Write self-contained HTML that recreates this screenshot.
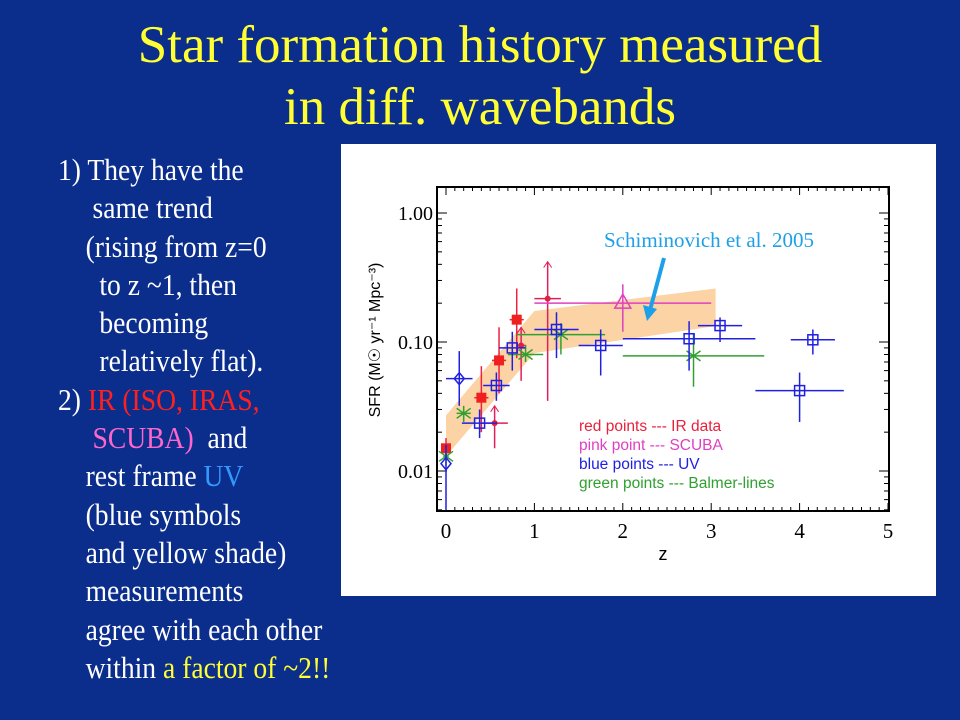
<!DOCTYPE html>
<html><head><meta charset="utf-8">
<style>
body{margin:0;width:960px;height:720px;background:#0b2d8c;overflow:hidden;position:relative;font-family:"Liberation Serif",serif}
.t{position:absolute;left:0;width:960px;text-align:center;color:#ffff33;font-size:53px;line-height:62px}
.b{position:absolute;color:#fff;font-size:31px;line-height:38.3px;white-space:pre;transform:scaleX(0.89);transform-origin:0 0}
</style></head><body>
<div class="t" style="top:14px">Star formation history measured<br>in diff. wavebands</div>
<div class="b" style="left:58px;top:151px">1) They have the
     same trend
    (rising from z=0
      to z ~1, then
      becoming
      relatively flat).
2) <span style="color:#ff2020">IR (ISO, IRAS,</span>
     <span style="color:#ff66cc">SCUBA)</span>  and
    rest frame <span style="color:#3399ff">UV</span>
    (blue symbols
    and yellow shade)
    measurements
    agree with each other
    within <span style="color:#ffff33">a factor of ~2!!</span></div>
<svg style="position:absolute;left:341px;top:144px" width="595" height="452" viewBox="341 144 595 452">
<rect x="341" y="144" width="595" height="452" fill="#fff"/>
<g id="g"></g>
</svg>
<script>
const red=[[0,0.015,0.05,0.0125,0.018],[0.4,0.037,0.08,0.02,0.065],[0.6,0.072,0.08,0.04,0.13],[0.8,0.149,0.08,0.075,0.26]];
const redArrow=[[0.55,0.0235,0.15,0.015,0.032],[0.85,0.094,0.05,0.05,0.13],[1.15,0.217,0.15,0.035,0.42]];
const pink=[[2.0,0.2,1.0,0.12,0.28]];
const blueSq=[[0.38,0.0235,0.2,0.018,0.03],[0.57,0.046,0.15,0.035,0.058],[0.75,0.09,0.15,0.06,0.12],[1.25,0.125,0.25,0.075,0.17],[1.75,0.094,0.25,0.055,0.125],[2.75,0.106,0.75,0.06,0.145],[3.1,0.134,0.25,0.1,0.155],[4.0,0.042,0.5,0.024,0.058],[4.15,0.104,0.25,0.08,0.125]];
const blueDia=[[0.15,0.052,0.15,0.032,0.085],[0,0.0114,0,0.005,0.016]];
const green=[[0.2,0.028,0.08,0.024,0.032],[0.9,0.08,0.2,0.07,0.095],[1.3,0.114,0.5,0.08,0.14],[2.8,0.078,0.8,0.045,0.115],[0,0.013,0.03,0.011,0.015]];
const bandZ=[0,1,3.05];
const bandLo=[0.013,0.082,0.133];
const bandHi=[0.027,0.174,0.26];
const xTicks=[0,1,2,3,4,5];
const yTicks=[0.01,0.1,1];
const yLabels=["0.01","0.10","1.00"];
const L=437,R=889,T=187,B=511;
const X=z=>446+z*88.4;
const Y=v=>213-Math.log10(v)*129;
const g=document.getElementById('g');
const NS='http://www.w3.org/2000/svg';
function el(tag,a,p){const e=document.createElementNS(NS,tag);for(const k in a)e.setAttribute(k,a[k]);(p||g).appendChild(e);return e;}
let pts=bandZ.map((z,i)=>X(z)+','+Y(bandHi[i])).concat(bandZ.slice().reverse().map((z,i)=>X(z)+','+Y(bandLo[bandZ.length-1-i])));
const band=el('polygon',{points:pts.join(' '),fill:'#fbd3a4'});


const fr=el('rect',{x:L,y:T,width:R-L,height:B-T,fill:'none',stroke:'#000','stroke-width':2});


xTicks.forEach(t=>{
 el('line',{x1:X(t),x2:X(t),y1:B,y2:B-8,stroke:'#000'});el('line',{x1:X(t),x2:X(t),y1:T,y2:T+8,stroke:'#000'});
 for(let k=1;k<10&&t<5;k++){const xx=X(t+k/10);if(xx<R){el('line',{x1:xx,x2:xx,y1:B,y2:B-4,stroke:'#000'});el('line',{x1:xx,x2:xx,y1:T,y2:T+4,stroke:'#000'});}}
 const tx=el('text',{x:X(t),y:B+27,'text-anchor':'middle','font-size':21,'font-family':'Liberation Serif'});tx.textContent=t;
 
 
});
[0.001,0.01,0.1,1].forEach(d=>{for(let k=1;k<10;k++){const yy=Y(d*k);if(yy>T&&yy<B){const w=k==1?10:5;el('line',{x1:L,x2:L+w,y1:yy,y2:yy,stroke:'#000'});el('line',{x1:R,x2:R-w,y1:yy,y2:yy,stroke:'#000'});}}});
yTicks.forEach((t,i)=>{const tx=el('text',{x:L-4,y:Y(t)+7,'text-anchor':'end','font-size':20,'font-family':'Liberation Serif'});tx.textContent=yLabels[i];
 
 });
const xt=el('text',{x:663,y:560,'text-anchor':'middle','font-size':18,'font-family':'Liberation Sans'});xt.textContent='z';


const yt=el('text',{x:0,y:0,'text-anchor':'middle','font-size':16,'font-family':'Liberation Sans',transform:'translate(380,340) rotate(-90)'});yt.textContent='SFR (M\u2609 yr\u207B\u00B9 Mpc\u207B\u00B3)';


function err(d,c){el('line',{x1:X(d[0]-d[2]),x2:X(d[0]+d[2]),y1:Y(d[1]),y2:Y(d[1]),stroke:c,'stroke-width':1.5});el('line',{x1:X(d[0]),x2:X(d[0]),y1:Y(d[3]),y2:Y(d[4]),stroke:c,'stroke-width':1.5});}
red.forEach(d=>{err(d,'#f02040');const m=el('rect',{x:X(d[0])-5,y:Y(d[1])-5,width:10,height:10,fill:'#f02020'});});
redArrow.forEach(d=>{err(d,'#e0205a');const m=el('circle',{cx:X(d[0]),cy:Y(d[1]),r:3,fill:'#e02040'});const x=X(d[0]),y=Y(d[4]);el('polyline',{points:`${x-4},${y+6} ${x},${y} ${x+4},${y+6}`,fill:'none',stroke:'#e0205a'});});
pink.forEach(d=>{err(d,'#e040c0');const x=X(d[0]),y=Y(d[1]);const m=el('polygon',{points:`${x},${y-9} ${x-8},${y+5} ${x+8},${y+5}`,fill:'none',stroke:'#e040c0','stroke-width':1.5});});
green.forEach(d=>{err(d,'#30a030');const x=X(d[0]),y=Y(d[1]);const m=el('path',{d:`M${x-7},${y-5}L${x+7},${y+5}M${x-7},${y+5}L${x+7},${y-5}`,stroke:'#30a030','stroke-width':1.5});});
blueSq.forEach(d=>{err(d,'#2020e0');const m=el('rect',{x:X(d[0])-5,y:Y(d[1])-5,width:10,height:10,fill:'none',stroke:'#2020e0','stroke-width':1.5});});
blueDia.forEach(d=>{err(d,'#2020e0');const x=X(d[0]),y=Y(d[1]);const m=el('polygon',{points:`${x},${y-6} ${x+5},${y} ${x},${y+6} ${x-5},${y}`,fill:'none',stroke:'#2020e0','stroke-width':1.5});});
const leg=[['red points --- IR data','#e8203c'],['pink point --- SCUBA','#e040c0'],['blue points --- UV','#2020e0'],['green points --- Balmer-lines','#30a030']];
leg.forEach((l,i)=>{const t=el('text',{x:579,y:431+i*19,'font-size':15.5,'font-family':'Liberation Sans',fill:l[1]});t.textContent=l[0];});
const an=el('text',{x:604,y:247,'font-size':21,'font-family':'Liberation Serif',fill:'#1ea0e8'});an.textContent='Schiminovich et al. 2005';


const ar=el('line',{x1:664,y1:258,x2:650,y2:310,stroke:'#1ea0e8','stroke-width':4});


el('polygon',{points:'643,305 657,309 647,321',fill:'#1ea0e8'});
</script>
</body></html>
